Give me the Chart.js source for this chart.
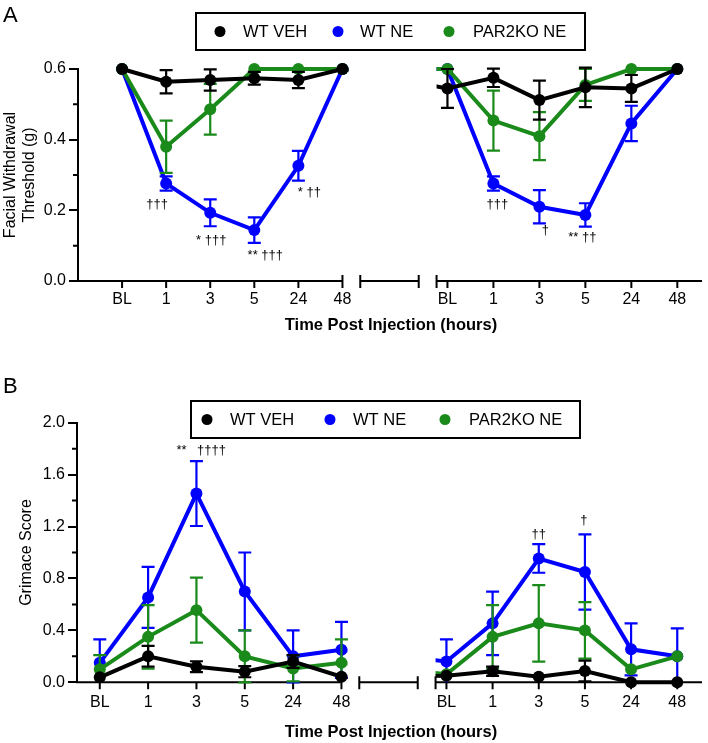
<!DOCTYPE html>
<html>
<head>
<meta charset="utf-8">
<script src="https://cdn.jsdelivr.net/npm/chart.js@4.4.1/dist/chart.umd.min.js"></script>
<style>
  html, body { margin: 0; padding: 0; background: #fff; }
  canvas { display: block; position: absolute; left: 0; }
  #panelA { top: 0; }
  #panelB { top: 370px; }
</style>
</head>
<body>
<canvas id="panelA" width="708" height="370"></canvas>
<canvas id="panelB" width="708" height="373"></canvas>
<script>
const categories = ["BL", "1", "3", "5", "24", "48"];
const seriesNames = ["WT VEH", "WT NE", "PAR2KO NE"];
const seriesColors = ["#000000", "#0000ff", "#1a8a1a"];

// Panel A - facial withdrawal threshold (g); L = first half of broken axis, R = second half
const vehA_L = [0.6, 0.564, 0.569, 0.574, 0.569, 0.6];
const vehA_Lerr = [0, 0.033, 0.03, 0.018, 0.023, 0];
const neA_L = [0.6, 0.276, 0.193, 0.144, 0.326, 0.6];
const neA_Lerr = [0, 0.02, 0.038, 0.036, 0.042, 0];
const parA_L = [0.6, 0.38, 0.486, 0.6, 0.6, 0.6];
const parA_Lerr = [0, 0.074, 0.072, 0, 0, 0];

const vehA_R = [0.545, 0.575, 0.512, 0.548, 0.545, 0.6];
const vehA_Rerr = [0.055, 0.026, 0.055, 0.056, 0.038, 0];
const neA_R = [0.6, 0.276, 0.21, 0.187, 0.446, 0.6];
const neA_Rerr = [0, 0.02, 0.047, 0.033, 0.05, 0];
const parA_R = [0.6, 0.454, 0.41, 0.555, 0.6, 0.6];
const parA_Rerr = [0, 0.085, 0.068, 0.045, 0, 0];

// Panel B - grimace score
const vehB_L = [0.038, 0.2, 0.12, 0.082, 0.16, 0.043];
const vehB_Lerr = [0, 0.08, 0.042, 0.043, 0.05, 0];
const neB_L = [0.15, 0.654, 1.454, 0.7, 0.2, 0.25];
const neB_Lerr = [0.18, 0.235, 0.25, 0.3, 0.2, 0.216];
const parB_L = [0.1, 0.35, 0.556, 0.2, 0.107, 0.15];
const parB_Lerr = [0.11, 0.244, 0.25, 0.2, 0.1, 0.18];

const vehB_R = [0.05, 0.085, 0.043, 0.087, 0, 0];
const vehB_Rerr = [0, 0.035, 0, 0.08, 0, 0];
const neB_R = [0.16, 0.454, 0.954, 0.85, 0.254, 0.2];
const neB_Rerr = [0.17, 0.245, 0.11, 0.29, 0.2, 0.215];
const parB_R = [0.062, 0.35, 0.454, 0.4, 0.1, 0.2];
const parB_Rerr = [0, 0.244, 0.295, 0.218, 0, 0];

// significance marks: which half, category index, series, text
const notesA = [
  { half: "L", i: 1, s: 1, text: "†††", dx: -9, dy: 21 },
  { half: "L", i: 2, s: 1, text: "* †††", dx: 1, dy: 28 },
  { half: "L", i: 3, s: 1, text: "** †††", dx: 11, dy: 25 },
  { half: "L", i: 4, s: 1, text: "* ††", dx: 11, dy: 27 },
  { half: "R", i: 1, s: 1, text: "†††", dx: 4, dy: 21 },
  { half: "R", i: 2, s: 1, text: "†", dx: 6, dy: 24 },
  { half: "R", i: 3, s: 1, text: "** ††", dx: -3, dy: 22 },
];
const notesB = [
  { half: "L", i: 2, s: 1, text: "**", dx: -15, dy: -43 },
  { half: "L", i: 2, s: 1, text: "††††", dx: 15, dy: -43 },
  { half: "R", i: 2, s: 1, text: "††", dx: 0, dy: -24 },
  { half: "R", i: 3, s: 1, text: "†", dx: -1, dy: -52 },
];

const FONT = "'Liberation Sans', Arial, Helvetica, sans-serif";
Chart.defaults.color = "#000";
Chart.defaults.font.family = FONT;

function brokenAxisPlugin(p) {
  return {
    id: "brokenAxis",
    beforeDatasetsDraw(chart) {
      const { ctx, chartArea } = chart;
      const xs = chart.scales.x, ys = chart.scales.y;
      const y0 = ys.getPixelForValue(0);
      const X = v => xs.getPixelForValue(v);
      ctx.save();
      ctx.strokeStyle = "#000";
      ctx.lineWidth = 2;
      ctx.beginPath();
      // first half
      ctx.moveTo(chartArea.left - 1, y0);
      ctx.lineTo(X(p.leftEnd), y0);
      ctx.moveTo(X(p.leftEnd), y0 - 6);
      ctx.lineTo(X(p.leftEnd), y0 + 7);
      // break piece
      ctx.moveTo(X(p.gapFrom), y0);
      ctx.lineTo(X(p.gapTo), y0);
      [p.gapFrom, p.gapTo].forEach(v => { ctx.moveTo(X(v), y0 - 6); ctx.lineTo(X(v), y0 + 7); });
      // second half
      ctx.moveTo(X(p.rightAxisFrom), y0);
      ctx.lineTo(chartArea.right, y0);
      ctx.moveTo(X(p.rightAxisFrom), y0 - 6);
      ctx.lineTo(X(p.rightAxisFrom), y0 + 7);
      // category ticks
      const pos = categories.map((c, i) => i).concat(categories.map((c, i) => p.rightStart + i * p.rightStep));
      pos.forEach(v => { ctx.moveTo(X(v), y0); ctx.lineTo(X(v), y0 + 7); });
      // minor y ticks
      p.minor.forEach(v => {
        const py = ys.getPixelForValue(v);
        ctx.moveTo(chartArea.left - 5, py);
        ctx.lineTo(chartArea.left, py);
      });
      ctx.stroke();

      ctx.fillStyle = "#000";
      ctx.font = "16px " + FONT;
      ctx.textAlign = "center";
      ctx.textBaseline = "middle";
      const labels = categories.concat(categories);
      pos.forEach((v, k) => ctx.fillText(labels[k], X(v), y0 + p.tickDy));
      ctx.font = "bold 16.5px " + FONT;
      ctx.fillText("Time Post Injection (hours)", p.titleX, y0 + p.titleDy);
      ctx.restore();
    },
    beforeDatasetDraw(chart, args) {
      const { ctx } = chart;
      const ds = chart.data.datasets[args.index];
      const xs = chart.scales.x, ys = chart.scales.y;
      ctx.save();
      ctx.strokeStyle = ds.borderColor;
      ctx.lineWidth = 2.2;
      ctx.beginPath();
      ds.data.forEach((pt, i) => {
        const e = ds.err[i];
        if (!e) return;
        const px = xs.getPixelForValue(pt.x);
        const hi = ys.getPixelForValue(pt.y + e);
        const loVal = pt.y - e;
        const lo = ys.getPixelForValue(Math.max(loVal, 0));
        ctx.moveTo(px, lo);
        ctx.lineTo(px, hi);
        ctx.moveTo(px - 6.5, hi);
        ctx.lineTo(px + 6.5, hi);
        if (loVal >= 0) {
          ctx.moveTo(px - 6.5, lo);
          ctx.lineTo(px + 6.5, lo);
        }
      });
      ctx.stroke();
      ctx.restore();
      // hide the line where the axis is broken
      ctx.save();
      ctx.beginPath();
      ctx.rect(0, 0, xs.getPixelForValue(p.leftEnd) + 6, chart.height);
      const rx = xs.getPixelForValue(p.rightAxisFrom);
      ctx.rect(rx, 0, chart.width - rx, chart.height);
      ctx.clip();
    },
    afterDatasetDraw(chart) {
      chart.ctx.restore();
    },
    afterDraw(chart) {
      const { ctx } = chart;
      const xs = chart.scales.x, ys = chart.scales.y;
      ctx.save();
      // legend
      const L = p.legend;
      ctx.strokeStyle = "#000";
      ctx.lineWidth = 2;
      ctx.strokeRect(L.box[0], L.box[1], L.box[2] - L.box[0], L.box[3] - L.box[1]);
      const cy = (L.box[1] + L.box[3]) / 2;
      ctx.font = "16.5px " + FONT;
      ctx.textBaseline = "middle";
      ctx.textAlign = "left";
      seriesNames.forEach((name, k) => {
        const ds = chart.data.datasets.find(d => d.label === name);
        ctx.fillStyle = ds.backgroundColor;
        ctx.beginPath();
        ctx.arc(L.dots[k], cy, 5.5, 0, Math.PI * 2);
        ctx.fill();
        ctx.fillStyle = "#000";
        ctx.fillText(name, L.texts[k], cy + 1);
      });
      // significance marks
      ctx.font = "13px " + FONT;
      ctx.textAlign = "center";
      p.notes.forEach(n => {
        const ds = chart.data.datasets.find(d => d.label === seriesNames[n.s]);
        const pt = ds.data[(n.half === "L" ? 0 : categories.length) + n.i];
        ctx.fillText(n.text, xs.getPixelForValue(pt.x) + n.dx, ys.getPixelForValue(pt.y) + n.dy);
      });
      // panel letter
      ctx.font = "22px " + FONT;
      ctx.textAlign = "left";
      ctx.textBaseline = "alphabetic";
      ctx.fillText(p.letter, 3, p.letterY);
      ctx.restore();
    }
  };
}

function makePanel(id, p) {
  const order = [0, 2, 1]; // drawing order: black, green, blue on top
  const datasets = order.map(k => {
    const s = p.series[k];
    const pts = s.left.map((v, i) => ({ x: i, y: v }))
      .concat(s.right.map((v, i) => ({ x: p.rightStart + i * p.rightStep, y: v })));
    return {
      label: seriesNames[k],
      data: pts,
      err: s.leftErr.concat(s.rightErr),
      borderColor: seriesColors[k],
      backgroundColor: seriesColors[k],
      borderWidth: 4,
      pointRadius: 6,
      pointBorderWidth: 0,
      pointBackgroundColor: seriesColors[k],
      tension: 0,
      clip: false,
    };
  });
  return new Chart(document.getElementById(id), {
    type: "line",
    data: { datasets },
    options: {
      responsive: false,
      animation: false,
      layout: { padding: { top: p.padTop, bottom: p.padBottom, left: 0, right: 0 } },
      plugins: { legend: { display: false }, tooltip: { enabled: false } },
      scales: {
        x: { type: "linear", display: false, min: p.xMin, max: p.xMax },
        y: {
          min: 0,
          max: p.yMax,
          afterFit: s => { s.width = p.yWidth; },
          ticks: {
            stepSize: p.yStep,
            padding: 3,
            color: "#000",
            font: { size: 16 },
            callback: v => v.toFixed(1),
          },
          grid: {
            drawOnChartArea: false,
            drawTicks: true,
            tickLength: 9,
            tickWidth: 2,
            tickColor: "#000",
            color: "#000",
            lineWidth: 2,
          },
          border: { display: true, color: "#000", width: 2 },
          title: {
            display: true,
            text: p.yTitle,
            font: { size: 16 },
            color: "#000",
            padding: { top: p.yTitlePad, bottom: 0 },
          },
        },
      },
    },
    plugins: [brokenAxisPlugin(p)],
  });
}

makePanel("panelA", {
  series: [
    { left: vehA_L, leftErr: vehA_Lerr, right: vehA_R, rightErr: vehA_Rerr },
    { left: neA_L, leftErr: neA_Lerr, right: neA_R, rightErr: neA_Rerr },
    { left: parA_L, leftErr: parA_Lerr, right: parA_R, rightErr: parA_Rerr },
  ],
  notes: notesA,
  xMin: -1, xMax: 13.157,
  rightStart: 7.382, rightStep: 1.043,
  leftEnd: 5, gapFrom: 5.404, gapTo: 6.73, rightAxisFrom: 7.135,
  yMax: 0.6, yStep: 0.2, minor: [0.1, 0.3, 0.5],
  yWidth: 78, padTop: 69, padBottom: 89,
  yTitle: ["Facial Withdrawal", "Threshold (g)"], yTitlePad: 1,
  tickDy: 19, titleX: 391, titleDy: 44,
  legend: { box: [196, 13, 585, 50], dots: [220, 338, 449], texts: [243, 360, 473] },
  letter: "A", letterY: 22,
});

makePanel("panelB", {
  series: [
    { left: vehB_L, leftErr: vehB_Lerr, right: vehB_R, rightErr: vehB_Rerr },
    { left: neB_L, leftErr: neB_Lerr, right: neB_R, rightErr: neB_Rerr },
    { left: parB_L, leftErr: parB_Lerr, right: parB_R, rightErr: parB_Rerr },
  ],
  notes: notesB,
  xMin: -0.471, xMax: 12.459,
  rightStart: 7.172, rightStep: 0.955,
  leftEnd: 5, gapFrom: 5.369, gapTo: 6.578, rightAxisFrom: 6.947,
  yMax: 2.0, yStep: 0.4, minor: [0.2, 0.6, 1.0, 1.4, 1.8],
  yWidth: 77, padTop: 52.7, padBottom: 60.7,
  yTitle: "Grimace Score", yTitlePad: 17,
  tickDy: 20, titleX: 391, titleDy: 50,
  legend: { box: [191, 31, 580, 68], dots: [207, 330, 445], texts: [230, 353, 469] },
  letter: "B", letterY: 23,
});
</script>
</body>
</html>
